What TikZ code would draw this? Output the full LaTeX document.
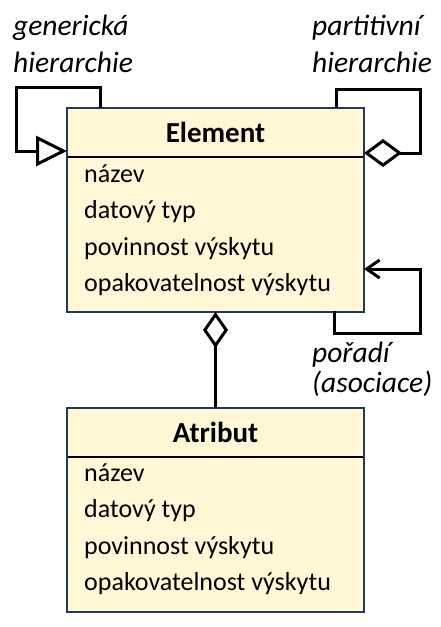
\documentclass[tikz,border=0pt]{standalone}
\usepackage{fontspec}
\setmainfont{Carlito}
\usetikzlibrary{positioning, arrows.meta}

\definecolor{classfill}{RGB}{255,247,214}
\definecolor{classline}{RGB}{31,56,100}

\begin{document}
\begin{tikzpicture}[
				x=1pt, y=-1pt,
				font=\fontsize{26}{37}\selectfont,
				classhead/.style={
					rectangle, draw=classline, fill=classfill, line width=1.5pt,
					minimum width=297pt, minimum height=49pt, outer sep=0pt,
					font=\fontsize{29}{37}\selectfont\bfseries
				},
				classbody/.style={
					rectangle, draw=classline, fill=classfill, line width=1.5pt,
					minimum width=297pt, minimum height=155pt, outer sep=0pt
				},
				attr/.style={anchor=base west, inner sep=0pt},
				note/.style={anchor=base west, inner sep=0pt, font=\fontsize{29.5}{37}\selectfont\itshape},
				link/.style={line width=3pt, draw=black}
				]
				\useasboundingbox (0,0) rectangle (440,627);
				
				% Element
				\node[classhead] (elhead) at (215.5,132.5) {Element};
				\node[classbody, below=0pt of elhead] (elbody) {};
				\draw[line width=2pt] (elhead.south west) -- (elhead.south east);
				\draw[classline, line width=1.5pt] (elhead.north west) rectangle (elbody.south east);
				\foreach \txt [count=\i] in {název, datový typ, povinnost výskytu, opakovatelnost výskytu}
					\node[attr] (elattr\i) at (84,{145.5+36.5*\i}) {\txt};
				
				% Atribut
				\node[classhead, below=96pt of elbody] (athead) {Atribut};
				\node[classbody, below=0pt of athead] (atbody) {};
				\draw[line width=2pt] (athead.south west) -- (athead.south east);
				\draw[classline, line width=1.5pt] (athead.north west) rectangle (atbody.south east);
				\foreach \txt [count=\i] in {název, datový typ, povinnost výskytu, opakovatelnost výskytu}
					\node[attr] (atattr\i) at (84,{444.5+36.5*\i}) {\txt};
				
				% Self links
				\coordinate (genstart) at (100,108);
				\coordinate (genend) at (67,151);
				\draw[link, -{Triangle[open, length=31pt, width=30pt, line width=3pt]}]
					(genstart) |- (16,87) |- (genend);
				
				\coordinate (partstart) at (336,108);
				\coordinate (partend) at (364,153);
				\draw[link, -{Diamond[open, length=38pt, width=28pt, line width=3pt]}]
					(partstart) |- (420,89) |- (partend);
				
				\coordinate (ordstart) at (334,311);
				\coordinate (ordend) at (364,269);
				\draw[link, -{Straight Barb[length=13pt, width=18pt, line width=3pt]}]
					(ordstart) |- (420,333) |- (ordend);
				
				% Element - Atribut
				\draw[link, -{Diamond[open, length=36pt, width=25pt, line width=3pt]}]
					(athead.north) -- (elbody.south);
				
				% Labels
				\node[note] (genlabel1) at (13,35) {generická};
				\node[note] (genlabel2) at (13,72) {hierarchie};
				\node[note] (partlabel1) at (312,35) {partitivní};
				\node[note] (partlabel2) at (312,72) {hierarchie};
				\node[note] (ordlabel1) at (312,362) {pořadí};
				\node[note] (ordlabel2) at (312,392) {(asociace)};
				
			\end{tikzpicture}
\end{document}
